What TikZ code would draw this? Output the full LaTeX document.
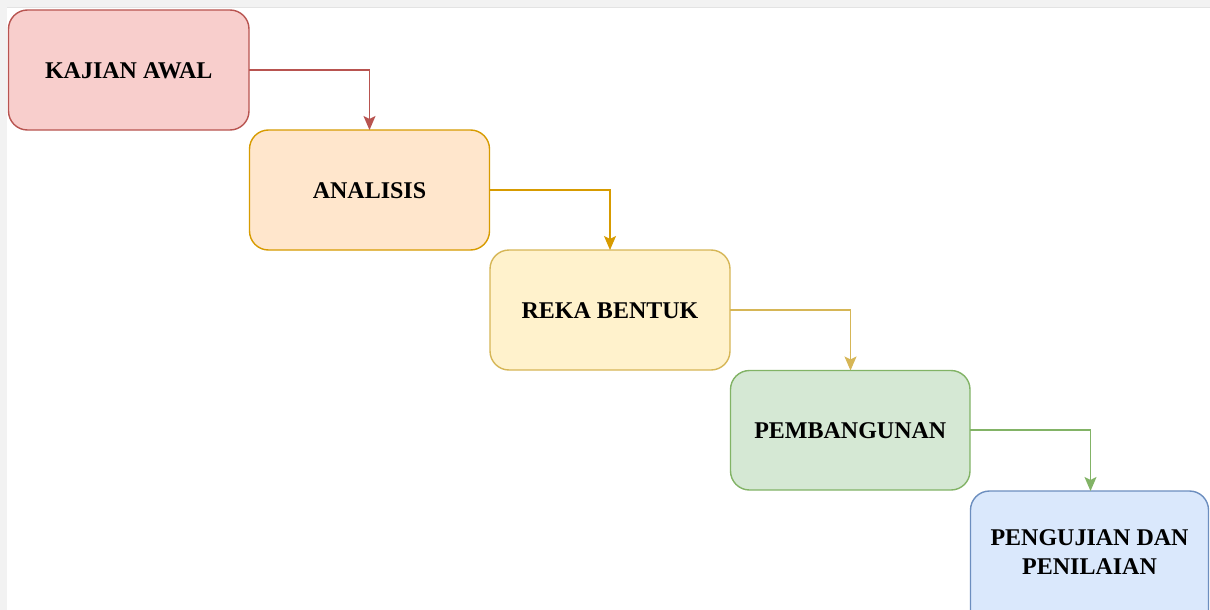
\documentclass[tikz,border=0pt]{standalone}
\usepackage{fontspec}
\setmainfont{Liberation Serif}
\usetikzlibrary{arrows.meta}
\definecolor{redF}{HTML}{F8CECC}\definecolor{redD}{HTML}{B85450}
\definecolor{orF}{HTML}{FFE6CC}\definecolor{orD}{HTML}{D79B00}
\definecolor{yeF}{HTML}{FFF2CC}\definecolor{yeD}{HTML}{D6B656}
\definecolor{grF}{HTML}{D5E8D4}\definecolor{grD}{HTML}{82B366}
\definecolor{blF}{HTML}{DAE8FC}\definecolor{blD}{HTML}{6C8EBF}
\definecolor{edge}{HTML}{F2F2F2}\definecolor{edgeline}{HTML}{E3E3E3}
\tikzset{
  stagebox/.style={rounded corners=19pt, line width=1.4pt, inner sep=0pt,
    align=center, font=\fontsize{24}{29}\selectfont\bfseries, text=black},
  flow/.style={line width=1.2pt, rounded corners=0pt,
    -{Stealth[length=14pt,width=12pt,inset=3pt]}},
}
\begin{document}
\begin{tikzpicture}[x=1pt,y=-1pt]
\useasboundingbox (0,0) rectangle (1210,610);
\clip (0,0) rectangle (1210,610);
\fill[white] (0,0) rectangle (1210,610);
\fill[edge] (0,0) rectangle (1210,7);
\fill[edge] (0,0) rectangle (7,610);
\draw[edgeline, line width=1pt] (7,7.5) -- (1210,7.5);
\path[stagebox, draw=redD, fill=redF] (8.5,10) rectangle (249,130);
\node[stagebox] (k) at (128.75,71) {KAJIAN AWAL};
\path[stagebox, draw=orD, fill=orF] (249.5,130) rectangle (489.5,250);
\node[stagebox] (a) at (369.5,191) {ANALISIS};
\path[stagebox, draw=yeD, fill=yeF] (490,250) rectangle (730,370);
\node[stagebox] (r) at (610,311) {REKA BENTUK};
\path[stagebox, draw=grD, fill=grF] (730.5,370.5) rectangle (970,490);
\node[stagebox] (p) at (850.25,431) {PEMBANGUNAN};
\path[stagebox, draw=blD, fill=blF] (970.5,491) rectangle (1208.5,630);
\node[stagebox] (u) at (1089.5,552) {PENGUJIAN DAN\\PENILAIAN};
\coordinate (kR) at (249,70); \coordinate (aT) at (369.5,130);
\coordinate (aR) at (489.5,190); \coordinate (rT) at (610,250);
\coordinate (rR) at (730,310); \coordinate (pT) at (850.5,370.5);
\coordinate (pR) at (970,430); \coordinate (uT) at (1090.5,491);
\draw[flow, redD] (kR) -| (aT);
\draw[flow, orD] (aR) -| (rT);
\draw[flow, yeD] (rR) -| (pT);
\draw[flow, grD] (pR) -| (uT);
\end{tikzpicture}
\end{document}
